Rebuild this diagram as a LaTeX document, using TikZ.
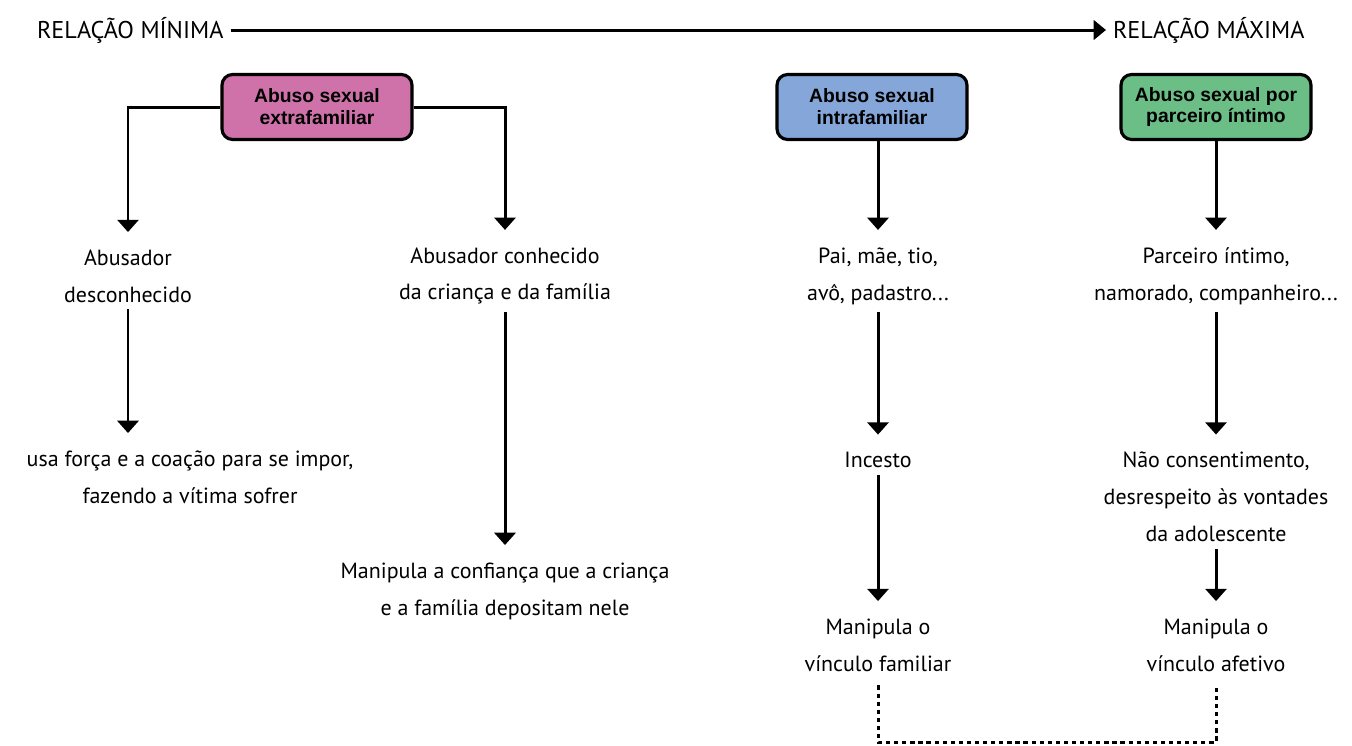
\documentclass[tikz,border=0pt]{standalone}
\usepackage{fontspec}
\setmainfont{PT Sans}
\newfontfamily\boxfont{Liberation Sans}
\usetikzlibrary{arrows.meta}
\definecolor{extracol}{RGB}{207,114,170}
\definecolor{intracol}{RGB}{132,166,216}
\definecolor{parcol}{RGB}{108,190,135}
\tikzset{
  tipo/.style={rectangle, draw, line width=1.8pt, rounded corners=6pt, minimum width=3.8cm, minimum height=1.3cm, align=center, font=\boxfont\bfseries\fontsize{11}{12.5}\selectfont},
  txt/.style={align=center, inner sep=0pt, outer sep=4pt, font=\fontsize{12.5}{21}\selectfont},
  titulo/.style={txt, anchor=west, font=\fontsize{13.8}{16}\selectfont},
  flow/.style={line width=1.7pt, -{Triangle[length=7pt,width=12pt]}, shorten >=6pt},
  liga/.style={line width=1.7pt, dash pattern=on 2.4pt off 2.2pt, shorten <=4pt}
}
\begin{document}
\begin{tikzpicture}[x=0.02cm, y=-0.02cm]
\useasboundingbox (0,0) rectangle (1352,745);
\node[titulo] at (30,30) (minima) {RELAÇÃO MÍNIMA};
\node[titulo] at (1106,30) (maxima) {RELAÇÃO MÁXIMA};
\draw[line width=1.7pt, -{Triangle[length=7pt,width=11pt]}] (minima.east) -- (maxima.west);

\node[tipo, fill=extracol] at (317,107) (extra) {Abuso sexual\\extrafamiliar};
\node[tipo, fill=intracol] at (872,107) (intra) {Abuso sexual\\intrafamiliar};
\node[tipo, fill=parcol] at (1216,107) (parc) {Abuso sexual por\\parceiro íntimo};

\node[txt] at (128,276) (desc) {Abusador\\desconhecido};
\node[txt] at (505,276) (conh) {Abusador conhecido\\da criança e da família};
\node[txt] at (878,276) (pai) {Pai, mãe, tio,\\avô, padastro...};
\node[txt] at (1216,276) (namo) {Parceiro íntimo,\\namorado, companheiro...};

\node[txt] at (190,477) (forca) {usa força e a coação para se impor,\\fazendo a vítima sofrer};
\node[txt] at (505,591) (confia) {Manipula a confiança que a criança\\e a família depositam nele};
\node[txt] at (878,460) (incesto) {Incesto};
\node[txt] at (1216,497) (consen) {Não consentimento,\\desrespeito às vontades\\da adolescente};
\node[txt] at (878,645) (vfam) {Manipula o\\vínculo familiar};
\node[txt] at (1216,645) (vafe) {Manipula o\\vínculo afetivo};
\coordinate (fundo) at (878,742);

\draw[flow] (extra.west) -| (desc.north);
\draw[flow] (extra.east) -| (conh.north);
\draw[flow] (intra.south -| pai.north) -- (pai.north);
\draw[flow] (parc.south) -- (namo.north);
\draw[flow] (desc.south) -- (desc.south |- forca.north);
\draw[flow] (conh.south) -- (confia.north);
\draw[flow] (pai.south) -- (incesto.north);
\draw[flow] (namo.south) -- (consen.north);
\draw[flow] (incesto.south) -- (vfam.north);
\draw[flow] (consen.south) -- (vafe.north);
\draw[liga] (vfam.south) -- (fundo) -| ([yshift=-4pt]vafe.south);
\end{tikzpicture}
\end{document}
